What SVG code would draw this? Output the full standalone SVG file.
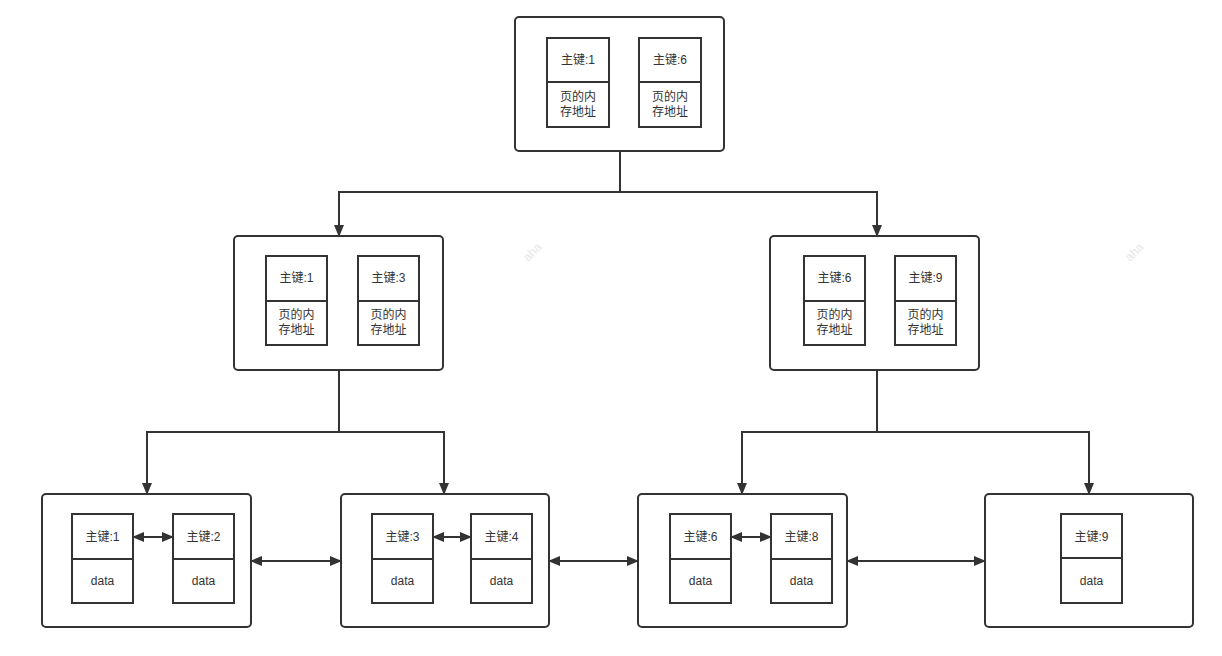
<svg xmlns="http://www.w3.org/2000/svg" width="1222" height="656" viewBox="0 0 1222 656">
<style>
.outer{fill:#fff;stroke:#333;stroke-width:2}
.cell{fill:#fff;stroke:#333;stroke-width:2}
.t{font-family:"Liberation Sans","Noto Sans CJK SC",sans-serif;font-size:12px;fill:#333;text-anchor:middle}
.c{fill:none;stroke:#333;stroke-width:2}
.wm{font-family:"Liberation Sans",sans-serif;font-size:12px;fill:#e6e6e6}
</style>
<defs>
<marker id="ah" markerUnits="userSpaceOnUse" markerWidth="12" markerHeight="10" refX="11" refY="5" orient="auto-start-reverse">
<path d="M0,0 L12,5 L0,10 z" fill="#333"/>
</marker>
</defs>
<rect width="1222" height="656" fill="#fff"/>
<g class="wm">
<text x="0" y="0" transform="translate(528,262) rotate(-45)">aha</text>
<text x="0" y="0" transform="translate(1130,262) rotate(-45)">aha</text>
</g>
<g id="root">
<rect class="outer" x="515" y="17" width="209" height="134" rx="4"/>
<rect class="cell" x="547" y="38" width="62" height="44"/>
<rect class="cell" x="547" y="82" width="62" height="45"/>
<text class="t" x="578" y="64">主键:1</text>
<text class="t" x="578" y="101">页的内</text>
<text class="t" x="578" y="116">存地址</text>
<rect class="cell" x="639" y="38" width="62" height="44"/>
<rect class="cell" x="639" y="82" width="62" height="45"/>
<text class="t" x="670" y="64">主键:6</text>
<text class="t" x="670" y="101">页的内</text>
<text class="t" x="670" y="116">存地址</text>
</g>
<g id="midLeft">
<rect class="outer" x="234" y="236" width="209" height="134" rx="4"/>
<rect class="cell" x="266" y="256" width="61" height="45"/>
<rect class="cell" x="266" y="301" width="61" height="44"/>
<text class="t" x="296.5" y="282">主键:1</text>
<text class="t" x="296.5" y="319">页的内</text>
<text class="t" x="296.5" y="334">存地址</text>
<rect class="cell" x="358" y="256" width="61" height="45"/>
<rect class="cell" x="358" y="301" width="61" height="44"/>
<text class="t" x="388.5" y="282">主键:3</text>
<text class="t" x="388.5" y="319">页的内</text>
<text class="t" x="388.5" y="334">存地址</text>
</g>
<g id="midRight">
<rect class="outer" x="770" y="236" width="209" height="134" rx="4"/>
<rect class="cell" x="804" y="256" width="61" height="45"/>
<rect class="cell" x="804" y="301" width="61" height="44"/>
<text class="t" x="834.5" y="282">主键:6</text>
<text class="t" x="834.5" y="319">页的内</text>
<text class="t" x="834.5" y="334">存地址</text>
<rect class="cell" x="895" y="256" width="61" height="45"/>
<rect class="cell" x="895" y="301" width="61" height="44"/>
<text class="t" x="925.5" y="282">主键:9</text>
<text class="t" x="925.5" y="319">页的内</text>
<text class="t" x="925.5" y="334">存地址</text>
</g>
<g id="leaf1">
<rect class="outer" x="42" y="494" width="209" height="133" rx="4"/>
<rect class="cell" x="72" y="514" width="61" height="45"/>
<rect class="cell" x="72" y="559" width="61" height="44"/>
<text class="t" x="102.5" y="541">主键:1</text>
<text class="t" x="102.5" y="585">data</text>
<rect class="cell" x="173" y="514" width="61" height="45"/>
<rect class="cell" x="173" y="559" width="61" height="44"/>
<text class="t" x="203.5" y="541">主键:2</text>
<text class="t" x="203.5" y="585">data</text>
</g>
<g id="leaf2">
<rect class="outer" x="341" y="494" width="208" height="133" rx="4"/>
<rect class="cell" x="372" y="514" width="61" height="45"/>
<rect class="cell" x="372" y="559" width="61" height="44"/>
<text class="t" x="402.5" y="541">主键:3</text>
<text class="t" x="402.5" y="585">data</text>
<rect class="cell" x="471" y="514" width="61" height="45"/>
<rect class="cell" x="471" y="559" width="61" height="44"/>
<text class="t" x="501.5" y="541">主键:4</text>
<text class="t" x="501.5" y="585">data</text>
</g>
<g id="leaf3">
<rect class="outer" x="638" y="494" width="209" height="133" rx="4"/>
<rect class="cell" x="670" y="514" width="61" height="45"/>
<rect class="cell" x="670" y="559" width="61" height="44"/>
<text class="t" x="700.5" y="541">主键:6</text>
<text class="t" x="700.5" y="585">data</text>
<rect class="cell" x="771" y="514" width="61" height="45"/>
<rect class="cell" x="771" y="559" width="61" height="44"/>
<text class="t" x="801.5" y="541">主键:8</text>
<text class="t" x="801.5" y="585">data</text>
</g>
<g id="leaf4">
<rect class="outer" x="985" y="494" width="208" height="133" rx="4"/>
<rect class="cell" x="1061" y="514" width="61" height="44"/>
<rect class="cell" x="1061" y="558" width="61" height="45"/>
<text class="t" x="1091.5" y="541">主键:9</text>
<text class="t" x="1091.5" y="585">data</text>
</g>
<g id="connectors">
<path class="c" d="M620,151 V192 H339 V236" marker-end="url(#ah)"/>
<path class="c" d="M620,192 H877 V236" marker-end="url(#ah)"/>
<path class="c" d="M339,370 V432 H147 V494" marker-end="url(#ah)"/>
<path class="c" d="M339,432 H444 V494" marker-end="url(#ah)"/>
<path class="c" d="M877,370 V432 H742 V494" marker-end="url(#ah)"/>
<path class="c" d="M877,432 H1089 V494" marker-end="url(#ah)"/>
<path class="c" d="M251,561 H341" marker-start="url(#ah)" marker-end="url(#ah)"/>
<path class="c" d="M549,561 H638" marker-start="url(#ah)" marker-end="url(#ah)"/>
<path class="c" d="M847,561 H985" marker-start="url(#ah)" marker-end="url(#ah)"/>
<path class="c" d="M133,537 H173" marker-start="url(#ah)" marker-end="url(#ah)"/>
<path class="c" d="M433,537 H471" marker-start="url(#ah)" marker-end="url(#ah)"/>
<path class="c" d="M731,537 H771" marker-start="url(#ah)" marker-end="url(#ah)"/>
</g>
</svg>
